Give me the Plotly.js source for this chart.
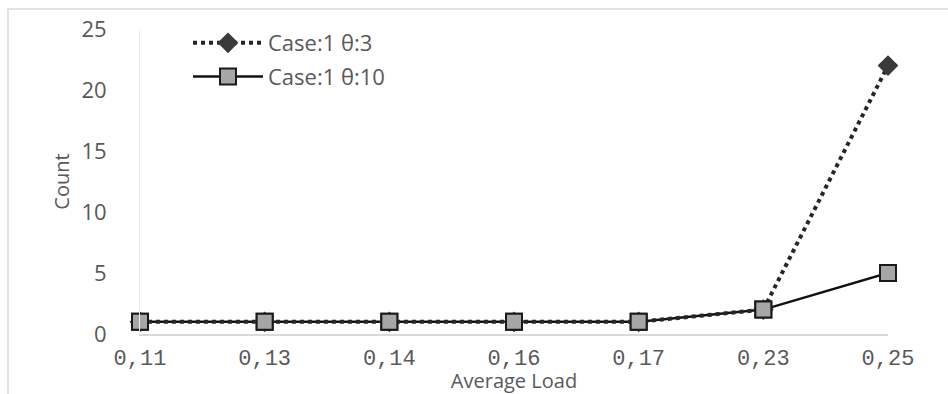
<!DOCTYPE html>
<html>
<head>
<meta charset="utf-8">
<script src="https://cdn.plot.ly/plotly-3.0.1.min.js"></script>
<style>html,body{margin:0;padding:0;background:#fff;}#chart{width:948px;height:394px;}</style>
</head>
<body>
<div id="chart"></div>
<script>
var categories = ["0,11", "0,13", "0,14", "0,16", "0,17", "0,23", "0,25"];
var seriesTheta3 = [1, 1, 1, 1, 1, 2, 22];
var seriesTheta10 = [1, 1, 1, 1, 1, 2, 5];
var seriesNames = ["Case:1 θ:3", "Case:1 θ:10"];
var yTicks = [0, 5, 10, 15, 20, 25];

var W = 948, H = 394;
var L = 140, R = 60, T = 29, B = 60;
var pw = W - L - R, ph = H - T - B;
function px(x) { return (x - L) / pw; }
function py(y) { return (H - B - y) / ph; }

var idx = categories.map(function (c, i) { return i; });

var traces = [
  {
    x: idx, y: seriesTheta10, name: seriesNames[1], type: 'scatter', mode: 'lines+markers',
    line: { color: '#111111', width: 2.5 },
    marker: { symbol: 'square', size: 16, color: '#a6a6a6', line: { color: '#1a1a1a', width: 2 } },
    legendrank: 2, legendgroup: 'b', cliponaxis: false
  },
  {
    x: idx, y: seriesTheta3, name: seriesNames[0], type: 'scatter', mode: 'lines+markers',
    line: { color: '#262626', width: 4, dash: 'dot' },
    marker: { symbol: 'diamond', size: 16, color: '#3a3a3a' },
    legendrank: 1, legendgroup: 'a', cliponaxis: false
  },
  {
    x: idx, y: seriesTheta10, name: seriesNames[1], type: 'scatter', mode: 'markers',
    marker: { symbol: 'square', size: 16, color: '#a6a6a6', line: { color: '#1a1a1a', width: 2 } },
    showlegend: false, legendgroup: 'b', cliponaxis: false, hoverinfo: 'skip'
  }
];

var layout = {
  width: W, height: H,
  margin: { l: L, r: R, t: T, b: B, pad: 0 },
  paper_bgcolor: '#ffffff', plot_bgcolor: '#ffffff',
  showlegend: true,
  legend: {
    x: px(188), y: py(22), xanchor: 'left', yanchor: 'top',
    bgcolor: 'rgba(0,0,0,0)',
    font: { family: 'Open Sans, sans-serif', size: 22, color: '#595959' },
    itemwidth: 70, tracegroupgap: 2
  },
  xaxis: {
    type: 'linear', range: [0, 6],
    tickmode: 'array', tickvals: idx, ticktext: categories,
    showgrid: false, zeroline: false,
    showline: true, linecolor: '#d9d9d9', linewidth: 2,
    ticks: 'outside', ticklen: 3, tickcolor: 'rgba(0,0,0,0)',
    tickfont: { family: 'Liberation Mono, monospace', size: 22, color: '#595959' },
    title: { text: 'Average Load', standoff: 6,
      font: { family: 'Open Sans, sans-serif', size: 20, color: '#595959' } },
    fixedrange: true
  },
  yaxis: {
    range: [0, 25], tickmode: 'array', tickvals: yTicks,
    showgrid: false, zeroline: false,
    showline: true, linecolor: '#ececec', linewidth: 1,
    ticks: 'outside', ticklen: 28, tickcolor: 'rgba(0,0,0,0)',
    tickfont: { family: 'Open Sans, sans-serif', size: 22, color: '#595959' },
    title: { text: 'Count', standoff: 6,
      font: { family: 'Open Sans, sans-serif', size: 20, color: '#595959' } },
    fixedrange: true
  },
  shapes: [
    { type: 'rect', xref: 'paper', yref: 'paper',
      x0: px(8), x1: px(960), y0: py(400), y1: py(9),
      line: { color: '#d9d9d9', width: 1.5 }, fillcolor: 'rgba(0,0,0,0)', layer: 'below' }
  ]
};

Plotly.newPlot('chart', traces, layout, { displayModeBar: false, staticPlot: true });
</script>
</body>
</html>
